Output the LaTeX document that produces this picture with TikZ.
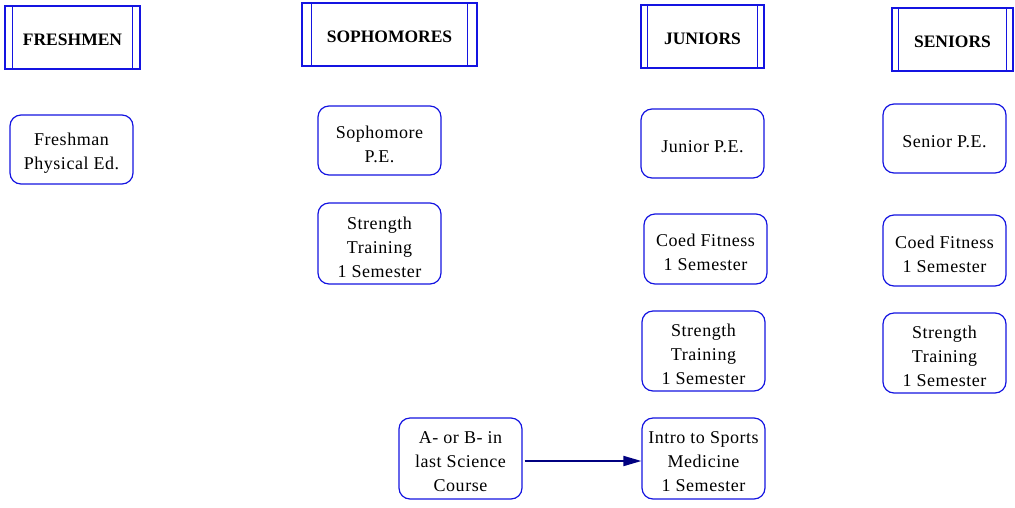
\documentclass[tikz,border=0pt]{standalone}
\usepackage{fontspec}
\setmainfont{Liberation Serif}
\usetikzlibrary{arrows.meta}
\definecolor{edgeblue}{RGB}{20,20,225}
\definecolor{navyline}{RGB}{0,0,128}
\tikzset{
  header/.style={draw=edgeblue, line width=1.2pt, minimum height=63pt,
    font=\fontsize{17.5}{20}\selectfont\bfseries, inner sep=0pt,
    text height=15pt, text depth=0pt},
  course/.style={draw=edgeblue, line width=1.2pt, rounded corners=11pt,
    minimum width=123pt, inner sep=0pt},
  coursetext/.style={align=center, inner sep=0pt, yshift=-3.5pt,
    font=\fontsize{18}{24}\selectfont\addfontfeature{LetterSpace=3}},
  prereq/.style={draw=navyline, line width=1.8pt, -{Triangle[length=18pt,width=10pt]}},
}
\newcommand{\headerbars}[2]{%
  \draw[edgeblue, line width=1.2pt] ([xshift=#2]#1.north west) -- ([xshift=#2]#1.south west);
  \draw[edgeblue, line width=1.2pt] ([xshift=-#2]#1.north east) -- ([xshift=-#2]#1.south east);
}
% a rounded course box with its centred text set slightly low
\newcommand{\course}[4]{%
  \node[course, minimum height=#3, label={[coursetext]center:{#4}}] (#1) at (#2) {};
}
\begin{document}
\begin{tikzpicture}[x=1pt,y=-1pt]
\useasboundingbox (0,0) rectangle (1015,507);

% class-year headers
\node[header, minimum width=135pt] (fr) at (72.5,37.5) {FRESHMEN};
\node[header, minimum width=175pt] (so) at (389.5,34.5) {SOPHOMORES};
\node[header, minimum width=123pt] (ju) at (702.5,36.5) {JUNIORS};
\node[header, minimum width=121pt] (se) at (952.5,39.5) {SENIORS};
\headerbars{fr}{8pt}
\headerbars{so}{10pt}
\headerbars{ju}{7pt}
\headerbars{se}{7pt}

% freshman courses
\course{frpe}{71.5,149.5}{69pt}{Freshman\\Physical Ed.}

% sophomore courses
\course{sope}{379.5,140.5}{69pt}{Sophomore\\P.E.}
\course{sost}{379.5,243.5}{81pt}{Strength\\Training\\1 Semester}
\course{sci}{460.5,458.5}{81pt}{A- or B- in\\last Science\\Course}

% junior courses
\course{jupe}{702.5,143.5}{69pt}{Junior P.E.}
\course{jucf}{705.5,249}{70pt}{Coed Fitness\\1 Semester}
\course{just}{703.5,351}{80pt}{Strength\\Training\\1 Semester}
\course{jusm}{703.5,458.5}{81pt}{Intro to Sports\\Medicine\\1 Semester}

% senior courses
\course{sepe}{944.5,138.5}{69pt}{Senior P.E.}
\course{secf}{944.5,250.5}{71pt}{Coed Fitness\\1 Semester}
\course{sest}{944.5,353}{80pt}{Strength\\Training\\1 Semester}

% prerequisite
\draw[prereq] ([xshift=2pt]sci.east |- 0,461) coordinate (a) -- (a -| jusm.west);
\end{tikzpicture}
\end{document}
